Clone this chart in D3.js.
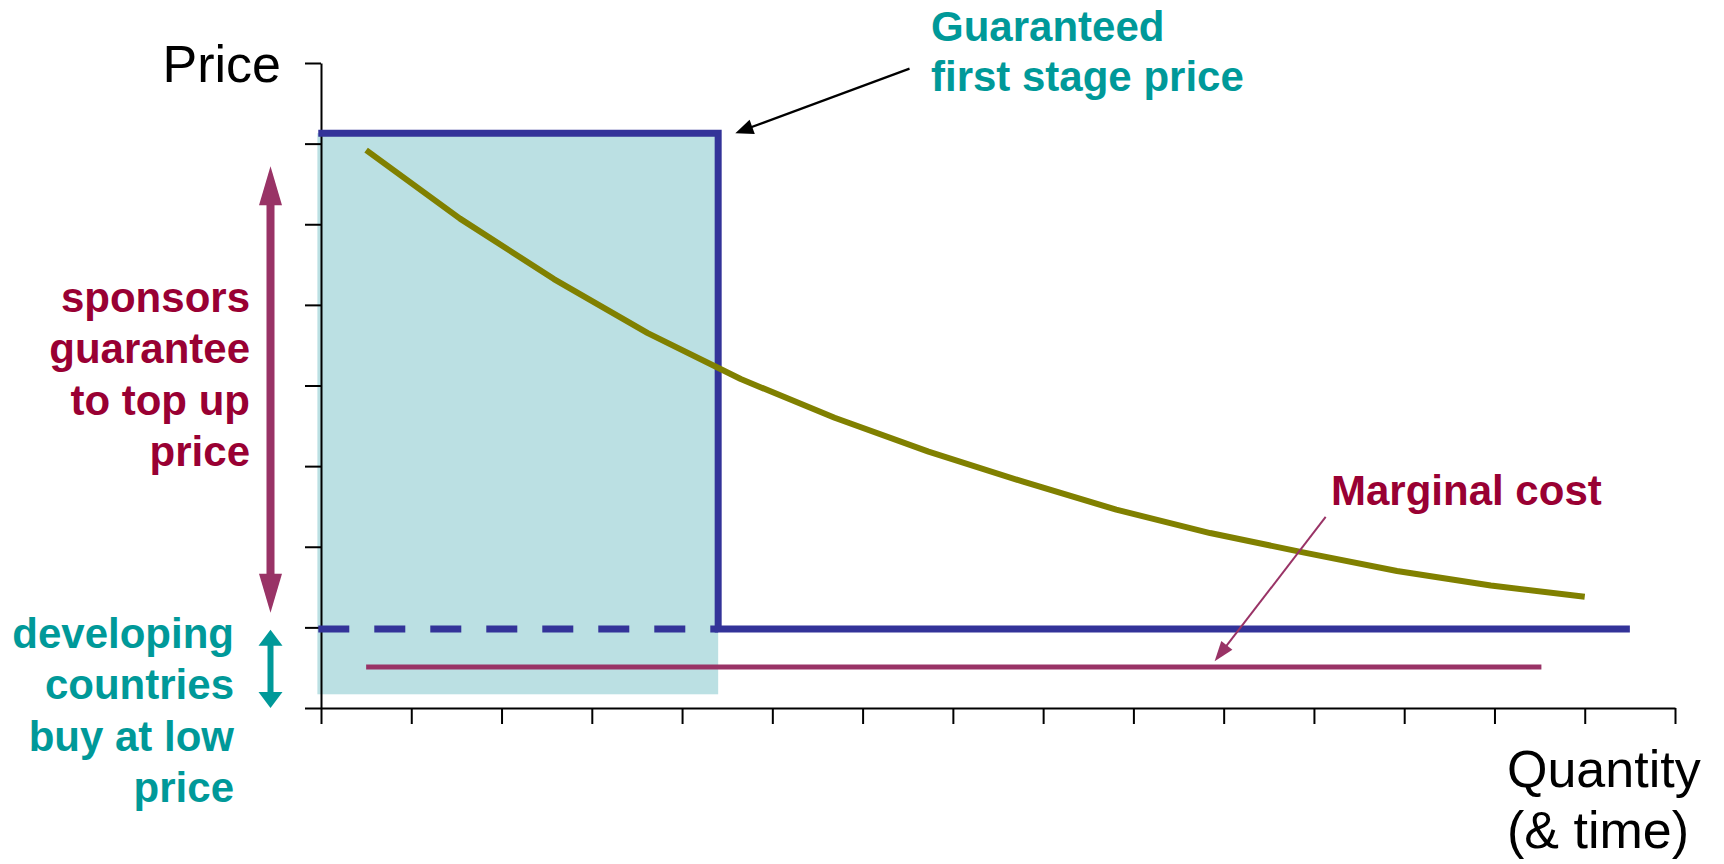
<!DOCTYPE html>
<html><head><meta charset="utf-8">
<script src="https://cdn.jsdelivr.net/npm/d3@7"></script>
<style>
html,body{margin:0;padding:0;background:#fff;}
svg{display:block;}
text{font-family:"Liberation Sans",Arial,Helvetica,sans-serif;}
</style>
</head><body>
<div id="chart"></div>
<script>
// ---------- data (chart units) ----------
const xTickValues = [0,1,2,3,4,5,6,7,8,9,10,11,12,13,14,15];
const yTickValues = [0,1,2,3,4,5,6,7,8];

// declining price/cost curve (olive)
const curveX = [0.5,1.54,2.58,3.62,4.65,5.69,6.73,7.77,8.81,9.85,10.88,11.92,12.96,14.0];
const curveY = [6.92,6.07,5.32,4.65,4.08,3.60,3.18,2.81,2.46,2.17,1.93,1.70,1.52,1.38];

// guaranteed price step (blue)
const stepX = [-0.03,4.40,4.40,14.50];
const stepY = [7.13,7.13,0.98,0.98];
// low developing-country price (blue dashed)
const lowX = [-0.03,4.40];
const lowY = [0.98,0.98];
// marginal cost (magenta)
const costX = [0.50,13.52];
const costY = [0.51,0.51];
// shaded guarantee area
const shadeX = [-0.04,4.40];
const shadeY = [0.17,7.13];

// annotation arrows [fromX, fromY, toX, toY]
const guaranteeArrow = [6.52,7.93,4.59,7.13];
const costArrow = [11.13,2.37,9.90,0.58];
// vertical double arrows [topY, bottomY]
const topUpSpan = [6.72,1.18];
const lowSpan = [0.97,0.0];

// ---------- layout ----------
const W = 1724, H = 864;
const COL_BLUE = "#333399", COL_OLIVE = "#808000", COL_MAG = "#993366",
      COL_TEAL = "#009999", COL_CRIMSON = "#990033", COL_SHADE = "#bbe0e3";

const svg = d3.select("#chart").append("svg").attr("width", W).attr("height", H);
svg.append("rect").attr("width", W).attr("height", H).attr("fill", "#fff");

const x = d3.scaleLinear().domain([0,15]).range([321,1675]);
const y = d3.scaleLinear().domain([0,8]).range([708,63]);

// shaded area
svg.append("rect")
  .attr("x", x(shadeX[0])).attr("y", y(shadeY[1]))
  .attr("width", x(shadeX[1]) - x(shadeX[0]))
  .attr("height", y(shadeY[0]) - y(shadeY[1]))
  .attr("fill", COL_SHADE);

// axes
const xAxis = svg.append("g").attr("transform", `translate(0,${y(0)})`)
  .call(d3.axisBottom(x).tickValues(xTickValues).tickSize(16).tickSizeOuter(0).tickFormat(""));
const yAxis = svg.append("g").attr("transform", `translate(${x(0)},0)`)
  .call(d3.axisLeft(y).tickValues(yTickValues).tickSize(16).tickSizeOuter(0).tickFormat(""));
[xAxis, yAxis].forEach(a => {
  a.selectAll("path,line").attr("stroke", "#000").attr("stroke-width", 2);
});

const line = d3.line().x(d => x(d[0])).y(d => y(d[1]));
const zip = (a, b) => a.map((v, i) => [v, b[i]]);

// dashed low price
svg.append("path").attr("d", line(zip(lowX, lowY)))
  .attr("fill", "none").attr("stroke", COL_BLUE).attr("stroke-width", 7)
  .attr("stroke-dasharray", "31 25");
// guaranteed price step
svg.append("path").attr("d", line(zip(stepX, stepY)))
  .attr("fill", "none").attr("stroke", COL_BLUE).attr("stroke-width", 7)
  .attr("stroke-linejoin", "miter");
// declining curve
svg.append("path").attr("d", line(zip(curveX, curveY)))
  .attr("fill", "none").attr("stroke", COL_OLIVE).attr("stroke-width", 6)
  .attr("stroke-linejoin", "round");
// marginal cost
svg.append("path").attr("d", line(zip(costX, costY)))
  .attr("fill", "none").attr("stroke", COL_MAG).attr("stroke-width", 5);

// ---------- arrows ----------
function head(tx, ty, fx, fy, len, wid) {
  const dx = tx - fx, dy = ty - fy, L = Math.hypot(dx, dy);
  const ux = dx / L, uy = dy / L, px = -uy, py = ux;
  const bx = tx - ux * len, by = ty - uy * len;
  return [[tx, ty], [bx + px * wid / 2, by + py * wid / 2], [bx - px * wid / 2, by - py * wid / 2]];
}
function thinArrow(a, color, sw, len, wid) {
  const fx = x(a[0]), fy = y(a[1]), tx = x(a[2]), ty = y(a[3]);
  const L = Math.hypot(tx - fx, ty - fy);
  const ex = tx - (tx - fx) / L * (len - 2), ey = ty - (ty - fy) / L * (len - 2);
  svg.append("line").attr("x1", fx).attr("y1", fy).attr("x2", ex).attr("y2", ey)
    .attr("stroke", color).attr("stroke-width", sw);
  svg.append("polygon").attr("points", head(tx, ty, fx, fy, len, wid).join(" ")).attr("fill", color);
}
thinArrow(guaranteeArrow, "#000", 2.2, 18, 15);
thinArrow(costArrow, COL_MAG, 2, 20, 14);

function doubleArrow(cx, span, color, shaft, len, wid) {
  const t = y(span[0]), b = y(span[1]);
  svg.append("line").attr("x1", cx).attr("x2", cx).attr("y1", t + len - 1).attr("y2", b - len + 1)
    .attr("stroke", color).attr("stroke-width", shaft);
  svg.append("polygon").attr("points", head(cx, t, cx, b, len, wid).join(" ")).attr("fill", color);
  svg.append("polygon").attr("points", head(cx, b, cx, t, len, wid).join(" ")).attr("fill", color);
}
doubleArrow(270.5, topUpSpan, COL_MAG, 8, 39, 23);
doubleArrow(270.5, lowSpan, COL_TEAL, 6, 16, 24);

// ---------- text ----------
function lines(arr, xPos, y0, dy, anchor, color, size, weight) {
  const t = svg.append("text").attr("text-anchor", anchor).attr("fill", color)
    .attr("font-size", size).attr("font-weight", weight);
  arr.forEach((s, i) => t.append("tspan").attr("x", xPos).attr("y", y0 + i * dy).text(s));
}
lines(["Price"], 281, 82, 0, "end", "#000", 52, "normal");
lines(["Quantity", "(& time)"], 1507, 787, 61, "start", "#000", 52, "normal");
lines(["Guaranteed", "first stage price"], 931, 41, 50, "start", COL_TEAL, 42, "bold");
lines(["Marginal cost"], 1331, 505, 0, "start", COL_CRIMSON, 42, "bold");
lines(["sponsors", "guarantee", "to top up", "price"], 250, 312, 51.4, "end", COL_CRIMSON, 42, "bold");
lines(["developing", "countries", "buy at low", "price"], 234, 648, 51.3, "end", COL_TEAL, 42, "bold");
</script>
</body></html>
